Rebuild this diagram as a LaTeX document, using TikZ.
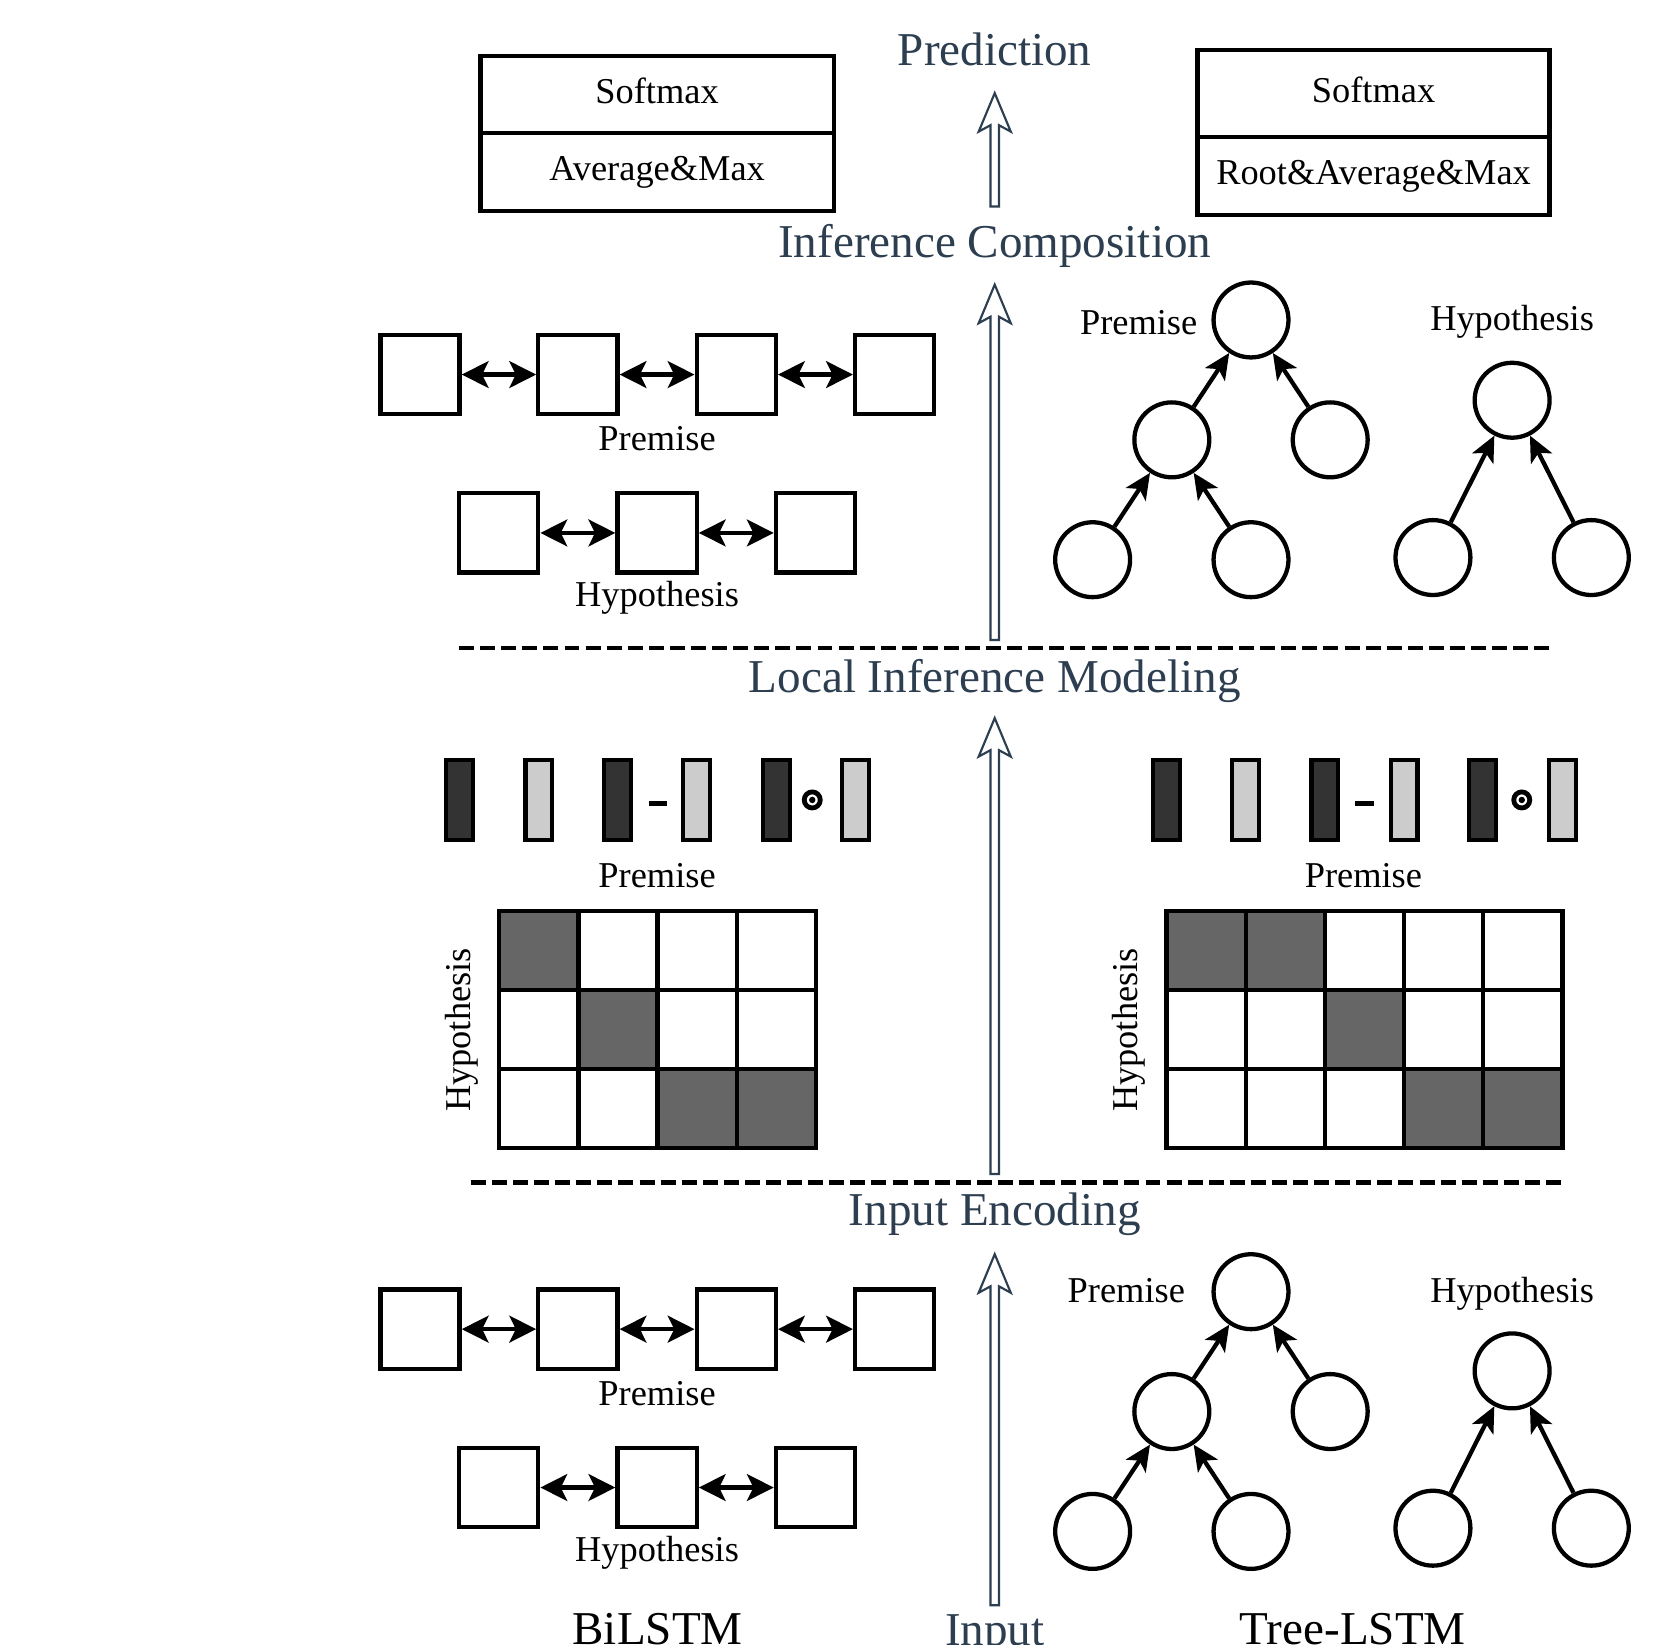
\documentclass[tikz,border=0pt]{standalone}
\usepackage{fontspec}
\setmainfont{Liberation Serif}
\usetikzlibrary{arrows.meta,calc}
\definecolor{slate}{HTML}{2C3E50}
\definecolor{bardark}{HTML}{333333}
\definecolor{barlight}{HTML}{CCCCCC}
\definecolor{matgray}{HTML}{666666}

\newcommand\hollowarrow[2]{%
  \draw[hollow] ($(#1)+(-4,0)$) -- ($(#2)+(-4,30)$) -- ($(#2)+(-15,36)$) -- (#2)
    -- ($(#2)+(15,36)$) -- ($(#2)+(4,30)$) -- ($(#1)+(4,0)$) -- cycle;}

\newcommand\bilstmblock[2]{%
  \foreach \i/\x in {1/392.5,2/540,3/688,4/836} {\node[sq] (#1p\i) at (\x,#2) {};}
  \foreach \i/\x in {1/466,2/614,3/762} {\node[sq] (#1h\i) at (\x,{#2+148}) {};}
  \draw[dbl] (#1p1) -- (#1p2);
  \draw[dbl] (#1p2) -- (#1p3);
  \draw[dbl] (#1p3) -- (#1p4);
  \draw[dbl] (#1h1) -- (#1h2);
  \draw[dbl] (#1h2) -- (#1h3);
  \node[smtext] (#1plab) at (614,{#2+71}) {Premise};
  \node[smtext] (#1hlab) at (614,{#2+217}) {Hypothesis};
}

\newcommand\premisetree[2]{%
  \node[tnode] (#1r) at (1169,#2) {};
  \node[tnode] (#1ml) at (1095,{#2+112}) {};
  \node[tnode] (#1mr) at (1243,{#2+112}) {};
  \node[tnode] (#1ll) at (1021,{#2+224}) {};
  \node[tnode] (#1lr) at (1169,{#2+224}) {};
  \draw[tarrow] (#1ml) -- (#1r);
  \draw[tarrow] (#1mr) -- (#1r);
  \draw[tarrow] (#1ll) -- (#1ml);
  \draw[tarrow] (#1lr) -- (#1ml);
}

\newcommand\hyptree[2]{%
  \node[tnode] (#1r) at (1413,#2) {};
  \node[tnode] (#1ll) at (1339,{#2+147}) {};
  \node[tnode] (#1lr) at (1487,{#2+147}) {};
  \draw[tarrow] (#1ll) -- (#1r);
  \draw[tarrow] (#1lr) -- (#1r);
}

\begin{document}
\begin{tikzpicture}[x=1pt,y=-1pt,
  smtext/.style={font=\fontsize{34}{40}\selectfont, inner sep=0pt, anchor=base},
  bigtext/.style={font=\fontsize{44}{52}\selectfont, text=slate, inner sep=0pt, anchor=base},
  blacktitle/.style={font=\fontsize{44}{52}\selectfont, inner sep=0pt, anchor=base},
  stackbox/.style={draw, line width=4pt, font=\fontsize{34}{40}\selectfont, text height=24pt, text depth=8pt, inner sep=0pt},
  sq/.style={draw, line width=4pt, minimum size=74pt, inner sep=0pt},
  dbl/.style={line width=4pt, {Stealth[length=25pt,width=25pt,inset=6pt]}-{Stealth[length=25pt,width=25pt,inset=6pt]}},
  tnode/.style={circle, draw, line width=4pt, minimum size=70pt, inner sep=0pt},
  tarrow/.style={line width=4pt, -{Stealth[length=24pt,width=22pt,inset=6pt]}},
  vbar/.style={draw, line width=4pt, minimum width=25pt, minimum height=75pt, inner sep=0pt},
  mcell/.style={draw, line width=4pt, minimum size=74pt, inner sep=0pt},
  hollow/.style={draw=slate, line width=2pt, fill=white, line join=miter},
  dashline/.style={line width=4.5pt, dash pattern=on 14pt off 5.7pt},
  odot/.style={circle, draw, line width=4.5pt, minimum size=15pt, inner sep=0pt},
]
\useasboundingbox (0,0) rectangle (1568,1537);
\fill[white] (0,0) rectangle (1568,1537);
\clip (0,0) rectangle (1568,1537);

% ---------- prediction layer boxes ----------
\node[stackbox, minimum width=330pt, minimum height=72.5pt] (lsoft) at (614,88.25) {Softmax};
\node[stackbox, minimum width=330pt, minimum height=72.5pt] (lagg) at (614,160.75) {Average\&Max};
\node[stackbox, minimum width=329pt, minimum height=81pt] (rsoft) at (1283.5,87.5) {Softmax};
\node[stackbox, minimum width=329pt, minimum height=73pt] (ragg) at (1283.5,164.5) {Root\&Average\&Max};

% ---------- section titles ----------
\node[bigtext] (pred) at (929.5,61) {Prediction};
\node[bigtext] (infcomp) at (929.5,241) {Inference Composition};
\node[bigtext] (localinf) at (929.5,647) {Local Inference Modeling};
\node[bigtext] (inenc) at (929.5,1145) {Input Encoding};
\node[bigtext] (inp) at (929.5,1538) {Input};
\node[blacktitle] (bil) at (614.5,1537) {BiLSTM};
\node[blacktitle] (treel) at (1264,1537) {Tree-LSTM};

% ---------- hollow flow arrows ----------
\coordinate (a1b) at (929.5,1500); \coordinate (a1t) at (929.5,1172);
\coordinate (a2b) at (929.5,1097); \coordinate (a2t) at (929.5,671);
\coordinate (a3b) at (929.5,598);  \coordinate (a3t) at (929.5,266);
\coordinate (a4b) at (929.5,193);  \coordinate (a4t) at (929.5,87);
\hollowarrow{a1b}{a1t}
\hollowarrow{a2b}{a2t}
\hollowarrow{a3b}{a3t}
\hollowarrow{a4b}{a4t}

% ---------- dashed separators ----------
\coordinate (d1l) at (429,605.5); \coordinate (d1r) at (1450,605.5);
\coordinate (d2l) at (440,1105);  \coordinate (d2r) at (1460,1105);
\draw[dashline] (d1l) -- (d1r);
\draw[dashline] (d2l) -- (d2r);

% ---------- BiLSTM blocks ----------
\bilstmblock{t}{350}
\bilstmblock{b}{1242}

% ---------- Tree-LSTM blocks ----------
\premisetree{tp}{299}
\hyptree{th}{374}
\node[smtext] (tplab) at (1064,313) {Premise};
\node[smtext] (thlab) at (1413,309) {Hypothesis};

\premisetree{bp}{1207}
\hyptree{bh}{1281}
\node[smtext] (bplab) at (1052.5,1217) {Premise};
\node[smtext] (bhlab) at (1413,1217) {Hypothesis};

% ---------- local inference vectors (left) ----------
\foreach \n/\x/\c in {1/429.5/bardark,2/503.5/barlight,3/577/bardark,4/651/barlight,5/725.5/bardark,6/799.5/barlight}
  {\node[vbar, fill=\c] (lv\n) at (\x,747.5) {};}
\node[inner sep=0pt] (lminus) at (614.5,750.5) {\rule{17pt}{4.5pt}};
\node[odot] (lodot) at (759,747.5) {};
\fill (lodot.center) circle [radius=3pt];
\node[smtext] (lvlab) at (614,829) {Premise};

% ---------- local inference vectors (right) ----------
\foreach \n/\x/\c in {1/1090/bardark,2/1164/barlight,3/1238/bardark,4/1312/barlight,5/1385.5/bardark,6/1460/barlight}
  {\node[vbar, fill=\c] (rv\n) at (\x,747.5) {};}
\node[inner sep=0pt] (rminus) at (1275,750.5) {\rule{17pt}{4.5pt}};
\node[odot] (rodot) at (1422,747.5) {};
\fill (rodot.center) circle [radius=3pt];
\node[smtext] (rvlab) at (1274,829) {Premise};

% ---------- alignment matrices ----------
\foreach \r/\c/\f in {0/0/matgray,0/1/white,0/2/white,0/3/white,
                      1/0/white,1/1/matgray,1/2/white,1/3/white,
                      2/0/white,2/1/white,2/2/matgray,2/3/matgray}
  {\node[mcell, fill=\f] (lm\r\c) at ({503.5+74*\c},{888+74*\r}) {};}
\foreach \r/\c/\f in {0/0/matgray,0/1/matgray,0/2/white,0/3/white,0/4/white,
                      1/0/white,1/1/white,1/2/matgray,1/3/white,1/4/white,
                      2/0/white,2/1/white,2/2/white,2/3/matgray,2/4/matgray}
  {\node[mcell, fill=\f] (rm\r\c) at ({1127+74*\c},{888+74*\r}) {};}
\node[smtext, anchor=center, rotate=90] (lmlab) at (431.5,962.5) {Hypothesis};
\node[smtext, anchor=center, rotate=90] (rmlab) at (1054.5,962.5) {Hypothesis};

\end{tikzpicture}
\end{document}
